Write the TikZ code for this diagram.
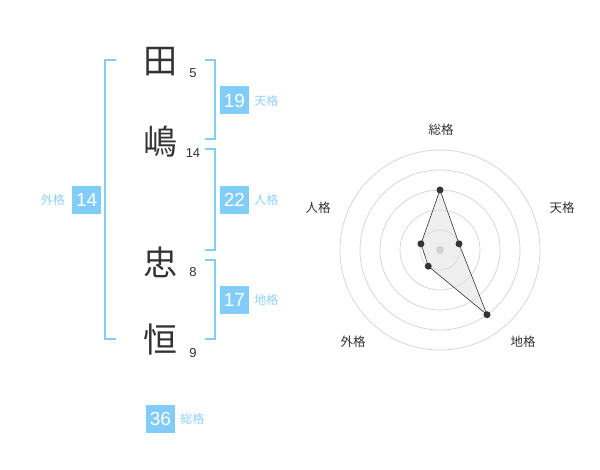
\documentclass[tikz,border=0pt]{standalone}
\usepackage{fontspec}
\setmainfont{Liberation Sans}
\newfontfamily\jp{Noto Sans CJK JP}
\usetikzlibrary{positioning}
\definecolor{kakublue}{RGB}{130,204,250}
\definecolor{labelblue}{RGB}{140,210,250}
\definecolor{inkgray}{RGB}{51,51,51}
\definecolor{ringgray}{RGB}{210,210,210}

\tikzset{
  kanji/.style={font=\jp\fontsize{34}{34}\selectfont, text=inkgray, inner sep=0pt},
  kakusu/.style={font=\fontsize{13}{13}\selectfont, text=inkgray, inner sep=0pt},
  kakubox/.style={fill=kakublue, text=white, minimum width=29pt, minimum height=28pt, inner sep=0pt, font=\fontsize{19}{19}\selectfont},
  kakulabel/.style={text=labelblue, font=\jp\fontsize{12}{12}\selectfont, inner sep=0pt},
  bracket/.style={draw=kakublue, line width=2pt},
  radarlabel/.style={font=\jp\fontsize{12.5}{12.5}\selectfont, text=inkgray, inner sep=0pt},
}

\begin{document}
\begin{tikzpicture}[x=1pt,y=-1pt]
 \useasboundingbox (0,0) rectangle (600,470);
 % name
 \node[kanji] (ta) at (160,62) {田};
 \node[kanji] (shima) at (160,142) {嶋};
 \node[kanji] (tada) at (160,262) {忠};
 \node[kanji] (tsune) at (160,340) {恒};
 \node[kakusu] (s1) at (193,73) {5};
 \node[kakusu] (s2) at (193,153) {14};
 \node[kakusu] (s3) at (193,272) {8};
 \node[kakusu] (s4) at (193,353) {9};

 % brackets
 \draw[bracket] (116,60)--(105.3,60)--(105.3,339.3)--(116,339.3);
 \draw[bracket] (205,60)--(214.7,60)--(214.7,139.3)--(205,139.3);
 \draw[bracket] (205,149.3)--(214.7,149.3)--(214.7,250)--(205,250);
 \draw[bracket] (205,260)--(214.7,260)--(214.7,339.3)--(205,339.3);

 % kaku
 \node[kakubox] (ten) at (234.5,100.5) {19};
 \node[kakulabel, right=5pt of ten] (tenl) {天格};
 \node[kakubox] (jin) at (234.5,200) {22};
 \node[kakulabel, right=5pt of jin] (jinl) {人格};
 \node[kakubox] (chi) at (234.5,300) {17};
 \node[kakulabel, right=5pt of chi] (chil) {地格};
 \node[kakubox] (gai) at (86.7,200) {14};
 \node[kakulabel, left=7pt of gai] (gail) {外格};
 \node[kakubox] (sou) at (160.5,419) {36};
 \node[kakulabel, right=5pt of sou] (soul) {総格};

 %%%%%%%%%%%%%%%%%%%%%%%%%%%%%%%%%%%
 % radar
 \begin{scope}[shift={(440,250)}, y=1pt]
  \foreach \r in {20,40,60,80,100}
   \draw[ringgray, line width=0.7pt] (0,0) circle (\r);
  \coordinate (rsou) at (90:60);
  \coordinate (rten) at (18:20);
  \coordinate (rchi) at (306:80);
  \coordinate (rgai) at (234:20);
  \coordinate (rjin) at (162:20);
  \path[fill=black!12, fill opacity=0.5] (rsou)--(rten)--(rchi)--(rgai)--(rjin)--cycle;
  \draw[inkgray, line width=0.6pt] (rsou)--(rten)--(rchi)--(rgai)--(rjin)--cycle;
  \path[fill=ringgray] (0,0) circle (4);
  \foreach \p in {rsou,rten,rchi,rgai,rjin}
   \path[fill=inkgray] (\p) circle (3.5);
 \end{scope}
 \node[radarlabel] (lsou) at (441,130) {総格};
 \node[radarlabel] (lten) at (562,208) {天格};
 \node[radarlabel] (ljin) at (318,208) {人格};
 \node[radarlabel] (lgai) at (353,342) {外格};
 \node[radarlabel] (lchi) at (523,342) {地格};
\end{tikzpicture}
\end{document}
